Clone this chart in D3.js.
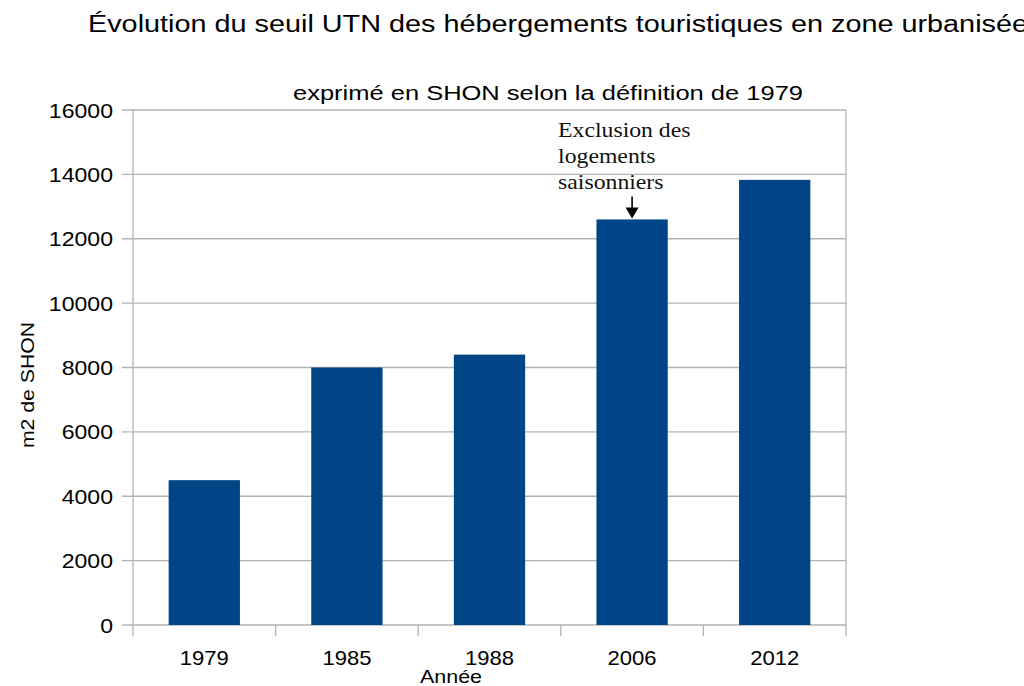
<!DOCTYPE html>
<html>
<head>
<meta charset="utf-8">
<script src="https://cdn.jsdelivr.net/npm/d3@7"></script>
<style>
  body { margin: 0; background: #fff; }
  text { font-family: "Liberation Sans", Arial, sans-serif; fill: #000; }
</style>
</head>
<body>
<svg id="chart" width="1024" height="686"></svg>
<script>
const years = ['1979', '1985', '1988', '2006', '2012']
const shon = [4500, 8000, 8400, 12600, 13830]
const yTicks = [0, 2000, 4000, 6000, 8000, 10000, 12000, 14000, 16000]
const noteLines = ['Exclusion des', 'logements', 'saisonniers']
const noteYear = '2006'

const svg = d3.select('#chart')
const margin = { left: 133, right: 178, top: 110, bottom: 61 }
const width = 1024 - margin.left - margin.right
const height = 686 - margin.top - margin.bottom

const x = d3.scaleBand().domain(years).range([0, width]).paddingInner(0.5).paddingOuter(0.25)
const y = d3.scaleLinear().domain([0, 16000]).range([height, 0])

// the original picture is a bit wider than tall, so text gets stretched
function place (px, py, sx, rot) {
  return 'translate(' + px + ',' + py + ')' + (rot ? ' rotate(' + rot + ')' : '') + ' scale(' + sx + ',1)'
}

const g = svg.append('g')
  .attr('transform', 'translate(' + margin.left + ',' + margin.top + ')')

// grid
g.append('g')
  .selectAll('line')
  .data(yTicks)
  .enter().append('line')
  .attr('x1', -11)
  .attr('x2', width)
  .attr('y1', d => y(d))
  .attr('y2', d => y(d))
  .attr('stroke', '#b3b3b3')
  .attr('stroke-width', 1.3)

// right border + left axis line
g.append('line').attr('x1', width).attr('x2', width).attr('y1', 0).attr('y2', height)
  .attr('stroke', '#b3b3b3').attr('stroke-width', 1.3)
g.append('line').attr('x1', 0).attr('x2', 0).attr('y1', 0).attr('y2', height + 11)
  .attr('stroke', '#b3b3b3').attr('stroke-width', 1.3)

// category boundary ticks
const step = x.step()
g.append('g')
  .selectAll('line')
  .data(d3.range(1, years.length + 1))
  .enter().append('line')
  .attr('x1', i => i * step)
  .attr('x2', i => i * step)
  .attr('y1', height)
  .attr('y2', height + 11)
  .attr('stroke', '#b3b3b3')
  .attr('stroke-width', 1.3)

// y labels
g.append('g')
  .selectAll('text')
  .data(yTicks)
  .enter().append('text')
  .attr('transform', d => place(-20, y(d), 1.1))
  .attr('dy', '0.36em')
  .attr('text-anchor', 'end')
  .style('font-size', '21px')
  .text(d => d)

// bars
g.selectAll('.bar')
  .data(years)
  .enter().append('rect')
  .attr('class', 'bar')
  .attr('x', d => x(d))
  .attr('y', (d, i) => y(shon[i]))
  .attr('width', x.bandwidth())
  .attr('height', (d, i) => height - y(shon[i]))
  .attr('fill', '#004586')

// x labels
g.append('g')
  .selectAll('text')
  .data(years)
  .enter().append('text')
  .attr('transform', d => place(x(d) + x.bandwidth() / 2, height + 40, 1.05))
  .attr('text-anchor', 'middle')
  .style('font-size', '21px')
  .text(d => d)

// axis titles
svg.append('text')
  .attr('transform', place(451, 683, 1.13))
  .attr('text-anchor', 'middle')
  .style('font-size', '19px')
  .text('Année')

svg.append('text')
  .attr('transform', place(34, 385, 1.18, -90))
  .attr('text-anchor', 'middle')
  .style('font-size', '18px')
  .text('m2 de SHON')

// titles
svg.append('text')
  .attr('x', 88)
  .attr('y', 32)
  .attr('textLength', 940)
  .attr('lengthAdjust', 'spacingAndGlyphs')
  .style('font-size', '23.5px')
  .text('Évolution du seuil UTN des hébergements touristiques en zone urbanisée')

svg.append('text')
  .attr('x', 293)
  .attr('y', 100)
  .attr('textLength', 510)
  .attr('lengthAdjust', 'spacingAndGlyphs')
  .style('font-size', '19.5px')
  .text('exprimé en SHON selon la définition de 1979')

// annotation
const noteX = x(noteYear) + x.bandwidth() / 2
const noteTop = y(shon[years.indexOf(noteYear)])
const note = svg.append('g').attr('transform', 'translate(' + margin.left + ',' + margin.top + ')')
note.selectAll('text')
  .data(noteLines)
  .enter().append('text')
  .attr('transform', (d, i) => place(noteX - 74, 27 + i * 26, 1.13))
  .style('font-family', '"Liberation Serif", "Times New Roman", serif')
  .style('font-size', '21px')
  .style('fill', '#111')
  .text(d => d)
note.append('line')
  .attr('x1', noteX).attr('x2', noteX)
  .attr('y1', noteTop - 23).attr('y2', noteTop - 10)
  .attr('stroke', '#000').attr('stroke-width', 1.6)
note.append('path')
  .attr('d', 'M' + (noteX - 6.5) + ',' + (noteTop - 12) + 'L' + (noteX + 6.5) + ',' + (noteTop - 12) + 'L' + noteX + ',' + (noteTop - 1) + 'Z')
  .attr('fill', '#000')
</script>
</body>
</html>
